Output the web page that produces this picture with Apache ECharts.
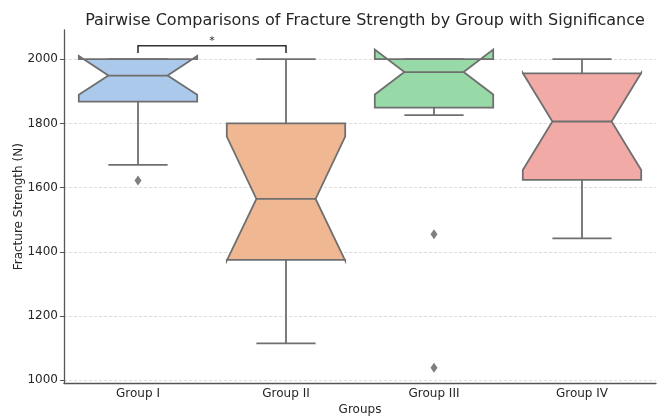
<!DOCTYPE html>
<html>
<head>
<meta charset="utf-8">
<script src="https://cdn.jsdelivr.net/npm/echarts@6/dist/echarts.min.js"></script>
<style>html,body{margin:0;padding:0;background:#fff}#c{width:658px;height:419px}</style>
</head>
<body>
<div id="c"></div>
<script>
const categories = ['Group I', 'Group II', 'Group III', 'Group IV'];
const whiskerLow = [1671, 1115, 1826, 1442];
const q1 = [1868, 1375, 1849, 1624];
const notchLow = [1889, 1373, 1890, 1655];
const medians = [1949, 1565, 1960, 1806];
const notchHigh = [2010, 1759, 2030, 1957];
const q3 = [2000, 1800, 2000, 1956];
const whiskerHigh = [2000, 2000, 2000, 2000];
const outliers = [[0, 1622], [2, 1455], [2, 1039]];
const yTicks = [1000, 1200, 1400, 1600, 1800, 2000];
const sigPairs = [[0, 1, 2042, 2019, '*']];
const boxColors = ['#abc9ea', '#efb792', '#98daa7', '#f2aaa7'];
const edge = '#6f6f6f';
const font = 'DejaVu Sans';

const boxData = categories.map((c, i) => ({
  value: [i, whiskerLow[i], q1[i], notchLow[i], medians[i], notchHigh[i], q3[i], whiskerHigh[i]],
  itemStyle: { color: boxColors[i] }
}));

function renderBox(params, api) {
  const i = api.value(0);
  const x = api.coord([i, api.value(4)])[0];
  const w = api.size([1, 0])[0] * 0.8;
  const h = w / 2, c = w / 4;
  const y = k => api.coord([i, api.value(k)])[1];
  const yWl = y(1), yQ1 = y(2), yNl = y(3), yMed = y(4), yNh = y(5), yQ3 = y(6), yWh = y(7);
  const ls = { stroke: edge, lineWidth: 1.8 };
  return {
    type: 'group',
    children: [
      { type: 'line', shape: { x1: x, y1: yQ1, x2: x, y2: yWl }, style: ls },
      { type: 'line', shape: { x1: x - c, y1: yWl, x2: x + c, y2: yWl }, style: ls },
      { type: 'line', shape: { x1: x, y1: yQ3, x2: x, y2: yWh }, style: ls },
      { type: 'line', shape: { x1: x - c, y1: yWh, x2: x + c, y2: yWh }, style: ls },
      {
        type: 'polygon',
        shape: {
          points: [[x - h, yQ1], [x - h, yNl], [x - c, yMed], [x - h, yNh], [x - h, yQ3],
                   [x + h, yQ3], [x + h, yNh], [x + c, yMed], [x + h, yNl], [x + h, yQ1]]
        },
        style: { fill: api.visual('color'), stroke: edge, lineWidth: 1.8, lineJoin: 'miter' }
      },
      { type: 'line', shape: { x1: x - c, y1: yMed, x2: x + c, y2: yMed }, style: ls }
    ]
  };
}

function renderSig(params, api) {
  const a = api.coord([api.value(0), api.value(2)]);
  const b = api.coord([api.value(1), api.value(2)]);
  const yTip = api.coord([api.value(0), api.value(3)])[1];
  return {
    type: 'group',
    children: [
      { type: 'polyline', shape: { points: [[a[0], yTip], [a[0], a[1]], [b[0], b[1]], [b[0], yTip]] },
        style: { stroke: '#333', lineWidth: 1.6, fill: null } },
      { type: 'text', style: { text: sigPairs[params.dataIndex][4], x: (a[0] + b[0]) / 2, y: a[1] + 1,
        align: 'center', verticalAlign: 'bottom', font: '11px "DejaVu Sans"', fill: '#262626' } }
    ]
  };
}

const chart = echarts.init(document.getElementById('c'), null, { renderer: 'canvas' });
chart.setOption({
  animation: false,
  title: {
    text: 'Pairwise Comparisons of Fracture Strength by Group with Significance',
    left: 360, top: 8, textAlign: 'center',
    textStyle: { fontFamily: font, fontSize: 16, fontWeight: 'normal', color: '#262626' }
  },
  grid: { left: 64, right: 2, top: 30, bottom: 35.5, containLabel: false, outerBoundsMode: 'none' },
  xAxis: {
    type: 'category', data: categories, boundaryGap: true,
    name: 'Groups', nameLocation: 'middle', nameGap: 20, nameMoveOverlap: false,
    nameTextStyle: { fontFamily: font, fontSize: 12, color: '#262626' },
    axisLine: { lineStyle: { color: '#555', width: 1.3 } },
    axisTick: { alignWithLabel: true, length: 4, lineStyle: { color: '#555' } },
    axisLabel: { fontFamily: font, fontSize: 12, color: '#262626', margin: 4 },
    splitLine: { show: false }
  },
  yAxis: {
    type: 'value', min: 990, max: 2091,
    name: 'Fracture Strength (N)', nameLocation: 'middle', nameGap: 39, nameMoveOverlap: false,
    nameTextStyle: { fontFamily: font, fontSize: 12, color: '#262626' },
    axisLine: { show: true, lineStyle: { color: '#555', width: 1.3 } },
    axisTick: { show: true, length: 4, customValues: yTicks, lineStyle: { color: '#555' } },
    axisLabel: { fontFamily: font, fontSize: 12, color: '#262626', margin: 6, customValues: yTicks,
      formatter: v => String(v) },
    splitLine: { show: true, lineStyle: { color: '#d4d4d4', type: [3, 2], width: 0.8 } }
  },
  series: [
    {
      type: 'custom', renderItem: renderBox, data: boxData,
      encode: { x: 0, y: [1, 2, 3, 4, 5, 6, 7] }, z: 2
    },
    {
      type: 'scatter', data: outliers, symbol: 'diamond', symbolSize: [7, 10],
      itemStyle: { color: '#5f5f5f' }, z: 3
    },
    {
      type: 'custom', renderItem: renderSig, data: sigPairs.map(p => [p[0], p[1], p[2], p[3]]),
      encode: { x: [0, 1], y: [2, 3] }, z: 4, clip: false
    }
  ]
});
</script>
</body>
</html>
